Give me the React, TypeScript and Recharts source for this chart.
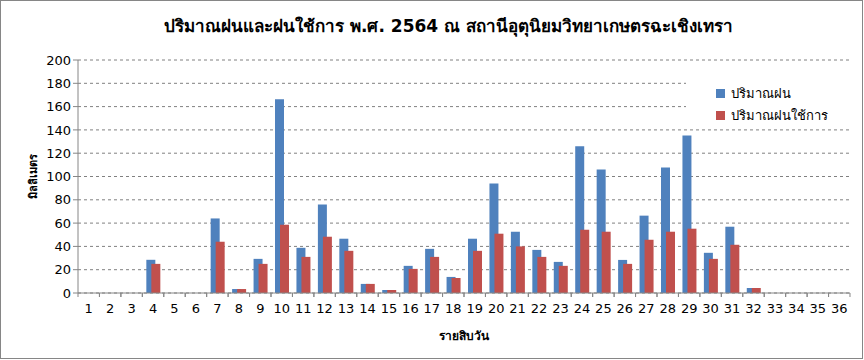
import { BarChart, Bar, XAxis, YAxis, CartesianGrid, Label } from 'recharts';

const FONT = 'Tahoma, "DejaVu Sans", "Noto Sans", sans-serif';
const AXIS_COLOR = '#868686';
const BLUE = '#4F81BD';
const RED = '#C0504D';

const periods = Array.from({ length: 36 }, (_, i) => String(i + 1));

// ปริมาณฝน (mm) รายสิบวัน
const rain = [
  0, 0, 0, 28.5, 0, 0, 64, 3.4, 29.3, 166.4, 38.8, 75.9, 46.6, 7.8, 2.6, 23.3, 37.9, 13.8,
  46.6, 94, 52.6, 37, 26.7, 125.9, 106, 28.4, 66.4, 107.8, 135.3, 34.5, 56.9, 4.3, 0, 0, 0, 0,
];

// ปริมาณฝนใช้การ (mm)
const effectiveRain = [
  0, 0, 0, 25, 0, 0, 44, 3.4, 25, 58.6, 31, 48.3, 36.2, 7.8, 2.6, 20.7, 31, 12.9,
  36.2, 50.9, 40, 31, 23.3, 54.3, 52.6, 25, 45.7, 52.6, 55.2, 29.3, 41.4, 4.3, 0, 0, 0, 0,
];

const yTicks = [0, 20, 40, 60, 80, 100, 120, 140, 160, 180, 200];

const series = [
  { key: 'rain', name: 'ปริมาณฝน', color: BLUE },
  { key: 'eff', name: 'ปริมาณฝนใช้การ', color: RED },
];

const data = periods.map((p, i) => ({ name: p, rain: rain[i], eff: effectiveRain[i] }));

const HALF_BAND = (848 - 77) / 36 / 2;

function XTick({ x, y, payload }: any) {
  return (
    <g>
      <line x1={x - HALF_BAND} y1={y - 8} x2={x - HALF_BAND} y2={y - 4} stroke={AXIS_COLOR} />
      <line x1={x + HALF_BAND} y1={y - 8} x2={x + HALF_BAND} y2={y - 4} stroke={AXIS_COLOR} />
      <text x={x} y={y + 12} textAnchor="middle" fontSize={13} fill="#000" fontFamily={FONT}>
        {payload.value}
      </text>
    </g>
  );
}

export default function App() {
  return (
    <div
      style={{
        position: 'absolute',
        left: 0,
        top: 0,
        width: 863,
        height: 359,
        boxSizing: 'border-box',
        border: `1px solid ${AXIS_COLOR}`,
        background: '#fff',
        fontFamily: FONT,
      }}
    >
      <div
        style={{
          position: 'absolute',
          left: 0,
          width: 895,
          top: 11,
          textAlign: 'center',
          fontSize: 17,
          fontWeight: 'bold',
          color: '#000',
        }}
      >
        ปริมาณฝนและฝนใช้การ พ.ศ. 2564 ณ สถานีอุตุนิยมวิทยาเกษตรฉะเชิงเทรา
      </div>
      <BarChart
        width={863}
        height={359}
        data={data}
        margin={{ top: 59, right: 14, bottom: 18, left: 20 }}
        barSize={9}
        barGap={-4}
      >
        <CartesianGrid horizontal vertical={false} strokeDasharray="3 3" stroke="#808080" />
        <XAxis
          dataKey="name"
          interval={0}
          height={49}
          tick={<XTick />}
          tickLine={false}
          axisLine={{ stroke: AXIS_COLOR }}
        >
          <Label
            value="รายสิบวัน"
            position="insideBottom"
            offset={2}
            style={{ fontSize: 12, fontWeight: 'bold', fill: '#000', fontFamily: FONT }}
          />
        </XAxis>
        <YAxis
          domain={[0, 200]}
          ticks={yTicks}
          interval={0}
          width={57}
          tickSize={5}
          tick={{ fontSize: 13, fill: '#000', fontFamily: FONT }}
          tickLine={{ stroke: AXIS_COLOR }}
          axisLine={{ stroke: AXIS_COLOR }}
        >
          <Label
            value="มิลลิเมตร"
            angle={-90}
            position="insideLeft"
            offset={12}
            style={{ fontSize: 11, fontWeight: 'bold', fill: '#000', fontFamily: FONT, textAnchor: 'middle' }}
          />
        </YAxis>
        {series.map((s) => (
          <Bar key={s.key} dataKey={s.key} name={s.name} fill={s.color} isAnimationActive={false} />
        ))}
      </BarChart>
      <div
        style={{
          position: 'absolute',
          left: 685,
          top: 79,
          width: 163,
          height: 46,
          background: '#fff',
          fontSize: 13,
        }}
      >
        {series.map((s, i) => (
          <div
            key={s.key}
            style={{ position: 'absolute', left: 30, top: 3 + i * 22, display: 'flex', alignItems: 'center' }}
          >
            <span style={{ width: 9, height: 9, background: s.color, marginRight: 6, display: 'inline-block' }} />
            <span style={{ color: '#000' }}>{s.name}</span>
          </div>
        ))}
      </div>
    </div>
  );
}
